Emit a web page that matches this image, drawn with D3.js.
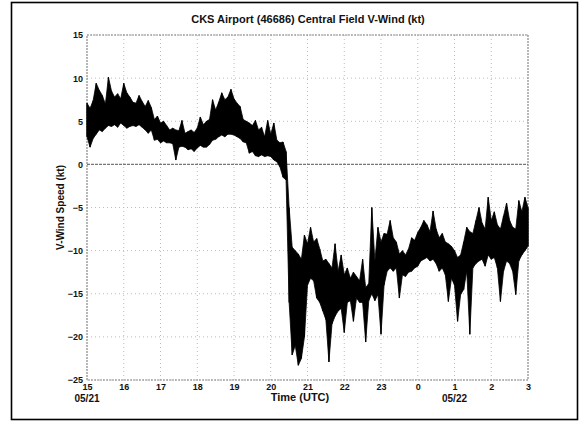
<!DOCTYPE html>
<html>
<head>
<meta charset="utf-8">
<script src="https://cdn.jsdelivr.net/npm/d3@7"></script>
<style>
  html, body { margin: 0; padding: 0; background: #fff; }
  svg { display: block; }
  text { font-family: "Liberation Sans", Arial, sans-serif; font-weight: bold; fill: #111; }
</style>
</head>
<body>
<svg id="chart" width="584" height="427"></svg>
<script>
// V-wind record, 5-minute bins starting 05/21 15:00 UTC: low / high of each bin (kt)
const startHour = 15;
const binMinutes = 5;
const vHigh = [
  7.1, 6.5, 7.4, 9.4, 8.6, 8.0, 7.0, 10.1, 8.5, 7.8, 8.2, 7.6,
  9.4, 8.3, 7.8, 7.2, 7.1, 8.0, 7.3, 6.7, 7.4, 6.6, 5.2, 5.6,
  4.8, 5.0, 4.5, 4.0, 4.2, 4.0, 3.9, 5.1, 3.6, 3.8, 4.0, 3.7,
  4.2, 5.5, 4.6, 5.0, 5.2, 7.5, 6.3, 7.2, 8.3, 7.5, 7.8, 8.7,
  7.6, 7.1, 6.7, 5.2, 5.0, 4.8, 4.5, 5.1, 4.0, 4.3, 3.2, 5.1,
  3.5, 4.8, 2.8, 2.5, 2.6, 1.5, -5.0, -9.6, -10.0, -10.4, -11.0, -8.2,
  -9.2, -7.3, -9.0, -8.6, -9.8, -11.2, -11.0, -11.5, -12.0, -9.2, -12.4, -10.5,
  -12.8, -12.0, -13.2, -12.5, -13.0, -13.5, -11.0, -14.3, -13.8, -5.0, -11.2, -7.3,
  -9.0, -8.0, -8.1, -6.5, -8.5, -9.0, -10.4, -10.0, -10.5, -9.8, -8.5, -8.8,
  -7.9, -7.3, -6.5, -7.0, -7.8, -5.4, -7.5, -8.5, -8.0, -9.0, -9.2, -9.5,
  -10.0, -10.8, -10.5, -9.0, -7.3, -7.8, -8.0, -6.5, -5.0, -6.8, -7.5, -3.8,
  -6.5, -5.5, -7.0, -7.5, -6.0, -4.5, -6.5, -7.3, -7.5, -4.2, -5.5, -3.8,
  -5.0
];
const vLow = [
  3.2, 2.0, 3.0, 3.5, 4.0, 3.8, 4.2, 4.5, 4.4, 4.6, 4.3, 4.8,
  4.5, 4.2, 4.4, 4.5, 4.4, 4.6, 4.3, 4.0, 3.6, 4.0, 2.8, 2.9,
  2.5, 2.7, 2.5, 2.5, 2.4, 0.5, 2.0, 2.1, 2.0, 1.7, 1.8, 1.5,
  1.9, 2.2, 2.0, 2.0, 2.3, 2.8, 2.9, 3.2, 3.4, 3.2, 3.5, 3.5,
  3.4, 3.2, 3.0, 2.6, 2.5, 1.3, 1.5, 1.0, 0.9, 1.1, 0.9, 1.0,
  0.9, 0.5, 0.3, -0.3, -1.5, -1.8, -16.0, -22.1, -21.0, -23.3, -22.5, -20.0,
  -14.0, -13.2, -13.5, -15.5, -16.0, -17.0, -18.0, -22.9, -18.5, -17.6, -17.0, -16.7,
  -19.5, -16.0, -15.8, -18.2, -15.5, -16.0, -16.0, -20.6, -15.8, -15.0, -15.8, -15.1,
  -19.7, -14.0, -12.4, -12.0, -12.4, -12.0, -15.5, -12.8, -13.0, -12.5, -12.4, -12.0,
  -11.8, -11.2, -11.0, -10.8, -11.2, -11.0, -11.5, -12.4, -12.0, -12.8, -15.9, -13.2,
  -14.0, -18.2, -15.1, -14.5, -12.4, -19.7, -12.0, -11.5, -11.2, -11.0, -11.8, -10.5,
  -11.0, -10.8, -12.0, -15.9, -12.4, -11.2, -11.5, -12.4, -15.1, -11.2, -10.5, -10.0,
  -9.5
];
const yTicks = [15, 10, 5, 0, -5, -10, -15, -20, -25];
const xTickLabels = ["15", "16", "17", "18", "19", "20", "21", "22", "23", "0", "1", "2", "3"];
const dateLabels = [{ hour: 0, text: "05/21" }, { hour: 10, text: "05/22" }];

const titleText = "CKS Airport (46686) Central Field V-Wind (kt)";
const yTitle = "V-Wind Speed (kt)";
const xTitle = "Time (UTC)";

const svg = d3.select("#chart");
const plot = { left: 87, right: 528, top: 35, bottom: 380 };

// outer frame
svg.append("rect")
  .attr("x", 11.5).attr("y", 2.5).attr("width", 566).attr("height", 417)
  .attr("fill", "none").attr("stroke", "#000").attr("stroke-width", 1.6);

// hours elapsed since 15 UTC
const x = d3.scaleLinear().domain([0, 12]).range([plot.left, plot.right]);
const y = d3.scaleLinear().domain([-25, 15]).range([plot.bottom, plot.top]);

// grid
const grid = svg.append("g");
grid.selectAll("line.h").data(yTicks.filter(d => d !== 0)).join("line")
  .attr("x1", plot.left).attr("x2", plot.right)
  .attr("y1", d => y(d)).attr("y2", d => y(d))
  .attr("stroke", "#bbb").attr("stroke-width", 1).attr("stroke-dasharray", "1,3");
grid.selectAll("line.v").data(d3.range(1, 12)).join("line")
  .attr("y1", plot.top).attr("y2", plot.bottom)
  .attr("x1", d => x(d)).attr("x2", d => x(d))
  .attr("stroke", "#bbb").attr("stroke-width", 1).attr("stroke-dasharray", "1,3");

// plot border
svg.append("rect")
  .attr("x", plot.left).attr("y", plot.top)
  .attr("width", plot.right - plot.left).attr("height", plot.bottom - plot.top)
  .attr("fill", "none").attr("stroke", "#888").attr("stroke-width", 1.2)
  .attr("stroke-dasharray", "2,1");

// zero reference line
svg.append("line")
  .attr("x1", plot.left).attr("x2", plot.right)
  .attr("y1", y(0)).attr("y2", y(0))
  .attr("stroke", "#777").attr("stroke-width", 1.3).attr("stroke-dasharray", "3,1");

// wind trace: band spanning each bin's low-to-high range
const bins = vHigh.map((hi, i) => ({ t: i * binMinutes / 60, hi, lo: vLow[i] }));
const band = d3.area()
  .x(d => x(d.t))
  .y0(d => y(d.lo))
  .y1(d => y(d.hi));
svg.append("path")
  .attr("d", band(bins))
  .attr("fill", "#000").attr("stroke", "#000").attr("stroke-width", 0.8);

// per-bin swing lines keep the trace ragged
svg.append("g").selectAll("line").data(bins).join("line")
  .attr("x1", d => x(d.t)).attr("x2", d => x(d.t))
  .attr("y1", d => y(d.hi)).attr("y2", d => y(d.lo))
  .attr("stroke", "#000").attr("stroke-width", 1.2);

// axes labels
const yAxis = d3.axisLeft(y).tickValues(yTicks).tickSize(0).tickPadding(4);
const gy = svg.append("g").attr("transform", `translate(${plot.left},0)`).call(yAxis);
gy.select(".domain").remove();
gy.selectAll("text").style("font-size", "9px").style("font-family", "Liberation Sans, Arial, sans-serif").style("font-weight", "bold").attr("fill", "#111");

const xAxis = d3.axisBottom(x).tickValues(d3.range(0, 13)).tickFormat((d, i) => xTickLabels[i]).tickSize(0).tickPadding(4);
const gx = svg.append("g").attr("transform", `translate(0,${plot.bottom})`).call(xAxis);
gx.select(".domain").remove();
gx.selectAll("text").style("font-size", "9px").style("font-family", "Liberation Sans, Arial, sans-serif").style("font-weight", "bold").attr("fill", "#111");

svg.selectAll("text.date").data(dateLabels).join("text")
  .attr("class", "date")
  .attr("x", d => x(d.hour)).attr("y", 402)
  .attr("text-anchor", "middle").style("font-size", "10px")
  .text(d => d.text);

svg.append("text").attr("x", 300).attr("y", 401).attr("text-anchor", "middle")
  .style("font-size", "11px").text(xTitle);

svg.append("text").attr("x", 308).attr("y", 23).attr("text-anchor", "middle")
  .style("font-size", "11px").text(titleText);

svg.append("text")
  .attr("transform", `translate(64,${(plot.top + plot.bottom) / 2}) rotate(-90)`)
  .attr("text-anchor", "middle").style("font-size", "10px").text(yTitle);
</script>
</body>
</html>
